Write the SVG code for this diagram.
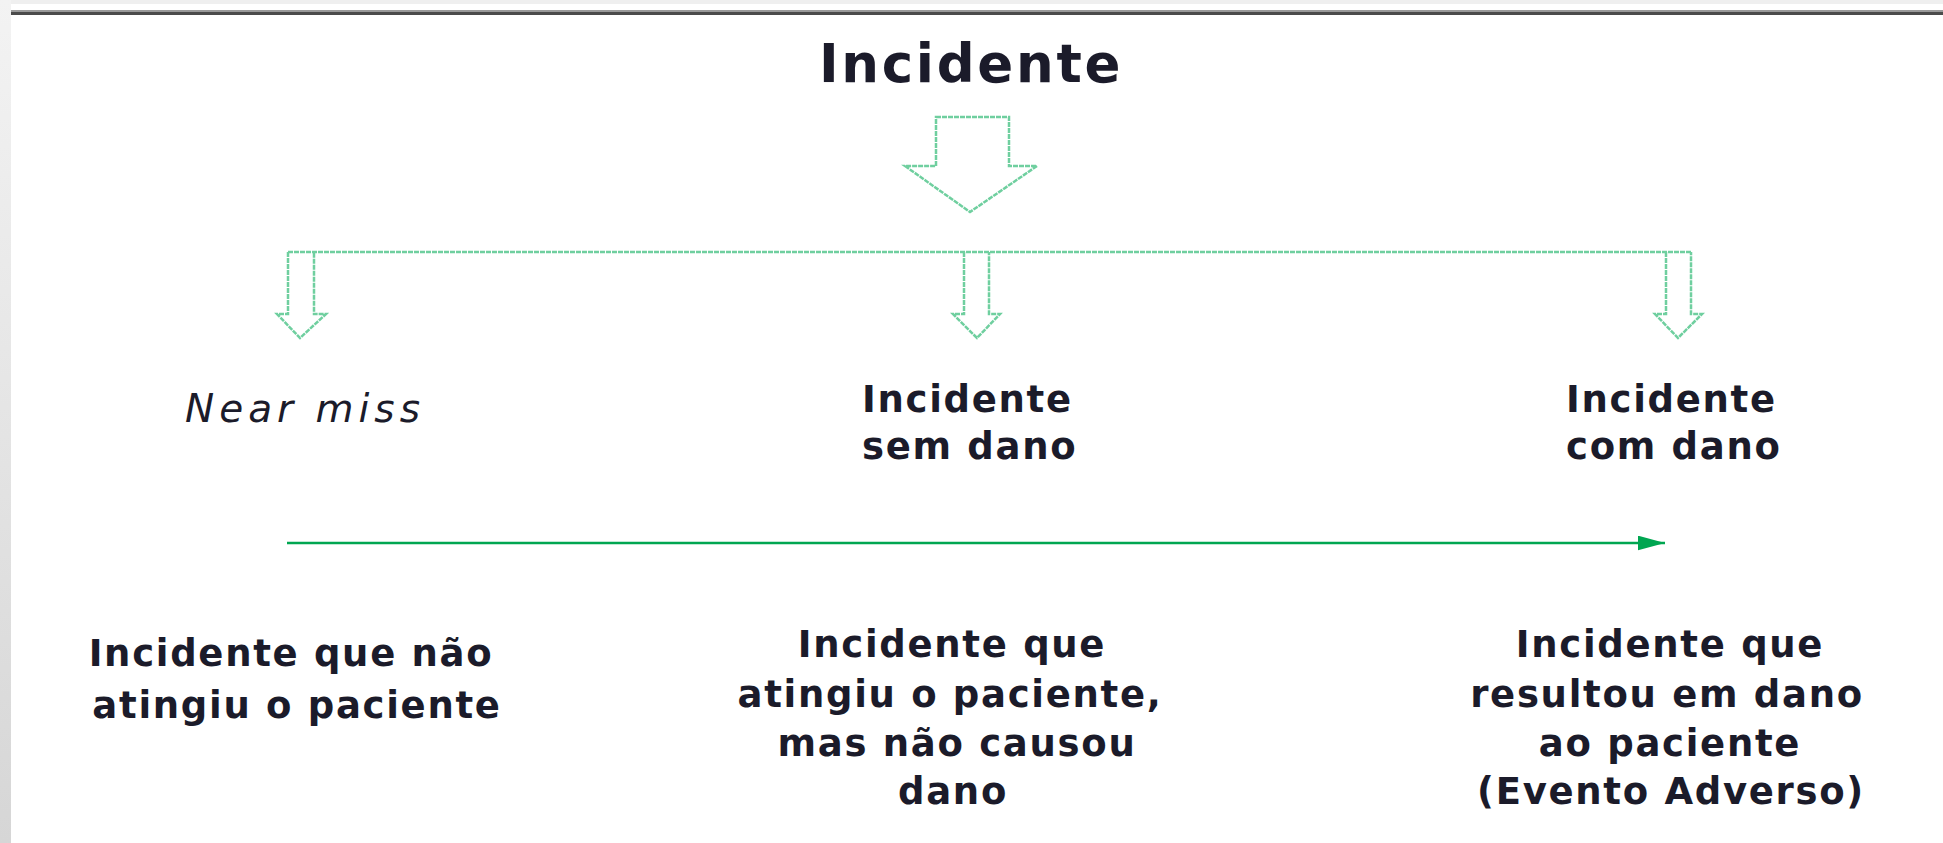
<svg xmlns="http://www.w3.org/2000/svg" width="1943" height="843" viewBox="0 0 1943 843">
<defs>
<linearGradient id="edge" x1="0" y1="0" x2="0" y2="1">
<stop offset="0" stop-color="#f3f3f3"/>
<stop offset="1" stop-color="#d6d6d6"/>
</linearGradient>
<marker id="ah" markerWidth="11" markerHeight="6" refX="11" refY="3" orient="auto" markerUnits="strokeWidth">
<path d="M0,0 L11,3 L0,6 Z" fill="#00a651"/>
</marker>
<style>
.t{font-family:"DejaVu Sans","Open Sans",sans-serif;font-weight:700;fill:#1b1b2a;font-size:37px;letter-spacing:1.7px}
.h{font-size:53px;letter-spacing:2.7px;text-anchor:middle}
.c{text-anchor:middle}
.i{font-weight:400;font-style:italic;font-size:39px;letter-spacing:5px}
.ol{fill:none;stroke:#6fcf9f;stroke-width:2.5;stroke-dasharray:5 1}
</style>
</defs>
<rect width="1943" height="843" fill="#ffffff"/>
<rect x="0" y="0" width="1943" height="4" fill="#efefef"/>
<rect x="0" y="0" width="11" height="843" fill="url(#edge)"/>
<rect x="11" y="10" width="1932" height="2" fill="#9a9a9a"/>
<rect x="11" y="12" width="1932" height="3" fill="#4b4b4b"/>

<g id="title">
<text class="t h" x="971" y="82">Incidente</text>
</g>
<g id="connectors">
<polygon class="ol" points="936,117 1009,117 1009,166 1037,166 970,212 905,166 936,166"/>
<line class="ol" x1="288" y1="252" x2="1691" y2="252"/>
<polyline class="ol" points="288,252 288,314 277,314 300,338 326,314 314,314 314,252"/>
<polyline class="ol" points="964,252 964,314 953,314 977,338 1000,314 989,314 989,252"/>
<polyline class="ol" points="1666,252 1666,314 1655,314 1678,338 1702,314 1691,314 1691,252"/>
<line x1="287" y1="543" x2="1665" y2="543" stroke="#00a651" stroke-width="2.5" marker-end="url(#ah)"/>
</g>
<g id="near-miss">
<text class="t i" x="185" y="422">Near miss</text>
</g>
<g id="sem-dano">
<text class="t" x="862" y="412">Incidente</text>
<text class="t" x="862" y="459">sem dano</text>
</g>
<g id="com-dano">
<text class="t" x="1566" y="412">Incidente</text>
<text class="t" x="1566" y="459">com dano</text>
</g>
<g id="desc-near-miss">
<text class="t c" x="291" y="666">Incidente que não</text>
<text class="t c" x="297" y="718">atingiu o paciente</text>
</g>
<g id="desc-sem-dano">
<text class="t c" x="952" y="657">Incidente que</text>
<text class="t c" x="950" y="707">atingiu o paciente,</text>
<text class="t c" x="957" y="756">mas não causou</text>
<text class="t c" x="953" y="804">dano</text>
</g>
<g id="desc-com-dano">
<text class="t c" x="1670" y="657">Incidente que</text>
<text class="t c" x="1667" y="707">resultou em dano</text>
<text class="t c" x="1670" y="756">ao paciente</text>
<text class="t c" x="1671" y="804">(Evento Adverso)</text>
</g>
</svg>
